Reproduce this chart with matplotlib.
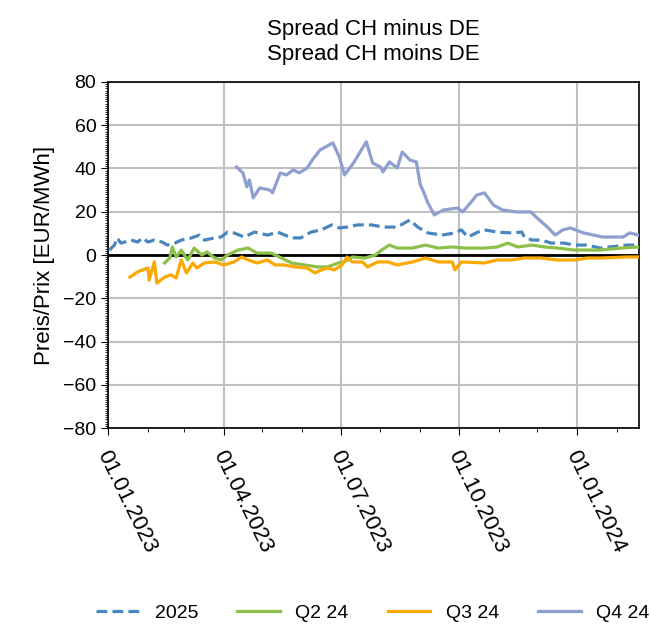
import pandas as pd
import matplotlib
matplotlib.use("Agg")
import matplotlib.pyplot as plt
import matplotlib.dates as mdates
import matplotlib.transforms as mtransforms
from matplotlib.ticker import MultipleLocator

plt.rcParams['font.family'] = ['Liberation Sans', 'DejaVu Sans']

# Product 2025
dates_2025 = ["2023-01-02", "2023-01-06", "2023-01-08", "2023-01-11", "2023-01-14", "2023-01-19",
              "2023-01-24", "2023-01-28", "2023-02-01", "2023-02-06", "2023-02-12", "2023-02-16",
              "2023-02-22", "2023-02-27", "2023-03-07", "2023-03-13", "2023-03-17", "2023-03-25",
              "2023-03-30", "2023-04-04", "2023-04-09", "2023-04-17", "2023-04-25", "2023-05-05",
              "2023-05-13", "2023-05-24", "2023-05-31", "2023-06-08", "2023-06-16", "2023-06-24",
              "2023-06-30", "2023-07-06", "2023-07-14", "2023-07-25", "2023-08-04", "2023-08-14",
              "2023-08-24", "2023-08-30", "2023-09-07", "2023-09-18", "2023-09-28", "2023-10-03",
              "2023-10-08", "2023-10-16", "2023-10-21", "2023-10-31", "2023-11-11", "2023-11-19",
              "2023-11-21", "2023-11-27", "2023-12-04", "2023-12-12", "2023-12-22", "2023-12-30",
              "2024-01-09", "2024-01-19", "2024-01-26", "2024-02-09", "2024-02-17"]
vals_2025 = [2.3, 4.6, 7.9, 5.5, 6.0, 6.9,
             6.0, 7.9, 6.0, 6.9, 6.0, 4.6,
             5.5, 6.9, 7.9, 9.2, 6.9, 7.9,
             8.3, 10.6, 10.2, 8.3, 10.6, 9.2,
             10.6, 7.9, 7.9, 10.6, 11.6, 13.9,
             12.5, 12.9, 13.9, 13.9, 12.9, 12.9,
             16.2, 12.9, 10.2, 9.2, 10.2, 11.6,
             8.3, 10.6, 11.6, 10.6, 10.2, 10.6,
             8.3, 6.9, 6.9, 5.5, 5.5, 4.6,
             4.6, 3.2, 3.7, 4.6, 4.6]

# Q2 24
dates_q2 = ["2023-02-14", "2023-02-18", "2023-02-20", "2023-02-23", "2023-02-27", "2023-03-04",
            "2023-03-09", "2023-03-15", "2023-03-19", "2023-03-25", "2023-03-30", "2023-04-04",
            "2023-04-12", "2023-04-20", "2023-04-27", "2023-05-08", "2023-05-16", "2023-05-24",
            "2023-06-03", "2023-06-13", "2023-06-21", "2023-06-29", "2023-07-04", "2023-07-10",
            "2023-07-20", "2023-07-28", "2023-08-02", "2023-08-08", "2023-08-14", "2023-08-26",
            "2023-09-05", "2023-09-15", "2023-09-26", "2023-10-06", "2023-10-21", "2023-10-31",
            "2023-11-08", "2023-11-16", "2023-11-27", "2023-12-07", "2023-12-17", "2023-12-30",
            "2024-01-09", "2024-01-19", "2024-02-04", "2024-02-18"]
vals_q2 = [-3.7, -1.4, 3.7, -0.9, 2.3, -2.3,
           3.2, 0.0, 1.4, -1.4, -2.3, 0.0,
           2.3, 3.2, 0.9, 0.9, -1.4, -3.7,
           -4.6, -5.5, -5.5, -3.7, -3.2, -0.9,
           -1.4, 0.0, 2.3, 4.6, 3.2, 3.2,
           4.6, 3.2, 3.7, 3.2, 3.2, 3.7,
           5.5, 3.7, 4.6, 3.7, 3.2, 2.3,
           2.3, 2.3, 3.2, 3.7]

# Q3 24
dates_q3 = ["2023-01-18", "2023-01-24", "2023-02-01", "2023-02-02", "2023-02-06", "2023-02-08",
            "2023-02-14", "2023-02-19", "2023-02-23", "2023-02-27", "2023-03-03", "2023-03-08",
            "2023-03-11", "2023-03-17", "2023-03-25", "2023-04-01", "2023-04-09", "2023-04-15",
            "2023-04-20", "2023-04-27", "2023-05-05", "2023-05-11", "2023-05-18", "2023-05-26",
            "2023-06-05", "2023-06-11", "2023-06-16", "2023-06-21", "2023-06-26", "2023-07-02",
            "2023-07-06", "2023-07-10", "2023-07-18", "2023-07-22", "2023-07-30", "2023-08-07",
            "2023-08-14", "2023-08-26", "2023-09-05", "2023-09-15", "2023-09-26", "2023-09-28",
            "2023-10-03", "2023-10-21", "2023-10-31", "2023-11-11", "2023-11-21", "2023-12-04",
            "2023-12-17", "2023-12-30", "2024-01-09", "2024-01-19", "2024-02-09", "2024-02-18"]
vals_q3 = [-10.2, -7.8, -6.0, -11.6, -3.2, -13.0,
           -10.2, -9.2, -10.6, -2.3, -8.3, -3.7,
           -6.0, -3.7, -3.2, -4.6, -3.2, -0.9,
           -2.3, -3.7, -2.3, -4.6, -4.6, -5.5,
           -6.0, -8.3, -6.9, -6.0, -6.9, -4.6,
           -0.9, -3.2, -3.2, -5.5, -3.2, -3.2,
           -4.6, -3.2, -1.4, -3.2, -3.2, -6.9,
           -3.2, -3.7, -2.3, -2.3, -1.4, -1.4,
           -2.3, -2.3, -1.4, -1.4, -0.9, -0.9]

# Q4 24
dates_q4 = ["2023-04-11", "2023-04-16", "2023-04-19", "2023-04-21", "2023-04-24", "2023-04-29",
            "2023-05-07", "2023-05-09", "2023-05-15", "2023-05-20", "2023-05-25", "2023-05-30",
            "2023-06-05", "2023-06-09", "2023-06-15", "2023-06-25", "2023-06-30", "2023-07-04",
            "2023-07-11", "2023-07-21", "2023-07-26", "2023-08-01", "2023-08-03", "2023-08-08",
            "2023-08-14", "2023-08-18", "2023-08-24", "2023-08-29", "2023-09-01", "2023-09-03",
            "2023-09-07", "2023-09-12", "2023-09-19", "2023-09-30", "2023-10-04", "2023-10-10",
            "2023-10-15", "2023-10-21", "2023-10-28", "2023-11-04", "2023-11-15", "2023-11-26",
            "2023-12-01", "2023-12-09", "2023-12-15", "2023-12-21", "2023-12-27", "2024-01-06",
            "2024-01-21", "2024-02-06", "2024-02-11", "2024-02-18"]
vals_q4 = [40.7, 37.9, 31.5, 34.7, 26.4, 31.0,
           30.0, 28.7, 37.9, 37.0, 39.3, 38.0,
           40.2, 43.9, 48.5, 51.8, 45.3, 37.0,
           42.5, 52.3, 42.5, 40.7, 38.4, 43.0,
           40.2, 47.6, 43.9, 43.0, 32.4, 30.0,
           24.0, 18.5, 20.8, 21.7, 19.9, 24.0,
           27.7, 28.7, 23.1, 20.8, 19.9, 19.9,
           17.1, 12.9, 9.2, 11.6, 12.5, 10.2,
           8.3, 8.3, 10.2, 9.2]

tick_dates = ["2023-01-01", "2023-04-01", "2023-07-01", "2023-10-01", "2024-01-01"]

fig = plt.figure(figsize=(6.51, 6.25), dpi=100)
ax = fig.add_axes([0.166, 0.315, 0.816, 0.554])

ax.grid(True, color="#c0c0c0", linewidth=1.5)
ax.set_axisbelow(True)
ax.axhline(0, color="black", linewidth=2, zorder=3)

dash = (0, (3.4, 1.6))
ax.plot(pd.to_datetime(dates_2025), vals_2025, color="#4a86bd", linewidth=2.3, linestyle=dash, label="2025", zorder=4)
ax.plot(pd.to_datetime(dates_q2), vals_q2, color="#8cc04a", linewidth=2.3, label="Q2 24", zorder=4)
ax.plot(pd.to_datetime(dates_q3), vals_q3, color="#fba800", linewidth=2.3, label="Q3 24", zorder=4)
ax.plot(pd.to_datetime(dates_q4), vals_q4, color="#8e9fd0", linewidth=2.3, label="Q4 24", zorder=4)

ax.set_xlim(pd.Timestamp("2023-01-01"), pd.Timestamp("2024-02-18 12:00"))
ax.set_ylim(-80, 80)
ax.yaxis.set_major_locator(MultipleLocator(20))
ax.yaxis.set_minor_locator(MultipleLocator(1))
ax.set_xticks(pd.to_datetime(tick_dates))
ax.xaxis.set_minor_locator(mdates.MonthLocator())
ax.xaxis.set_major_formatter(mdates.DateFormatter("%d.%m.%Y"))
ax.tick_params(axis="y", labelsize=14, direction="out", length=5)
ax.tick_params(axis="y", which="minor", length=2.5)
ax.tick_params(axis="x", labelsize=16, direction="out", length=5, pad=12)
ax.tick_params(axis="x", which="minor", length=3)

# rotated date labels, nudged a little left like the original
shift = mtransforms.ScaledTranslation(-6 / 100, 0, fig.dpi_scale_trans)
for lbl in ax.get_xticklabels():
    lbl.set_rotation(-64)
    lbl.set_ha("left")
    lbl.set_va("center")
    lbl.set_rotation_mode("anchor")
    lbl.set_transform(lbl.get_transform() + shift)

for s in ax.spines.values():
    s.set_linewidth(1.2)

ax.set_ylabel("Preis/Prix [EUR/MWh]", fontsize=16, labelpad=6)
ax.set_title("Spread CH minus DE\nSpread CH moins DE", fontsize=16, pad=16)

fig.legend(loc="center", bbox_to_anchor=(0.573, 0.019), ncol=4, frameon=False,
           fontsize=14, handlelength=2.2, handletextpad=0.8, columnspacing=2.0)

fig.savefig("out.png", dpi=100)
